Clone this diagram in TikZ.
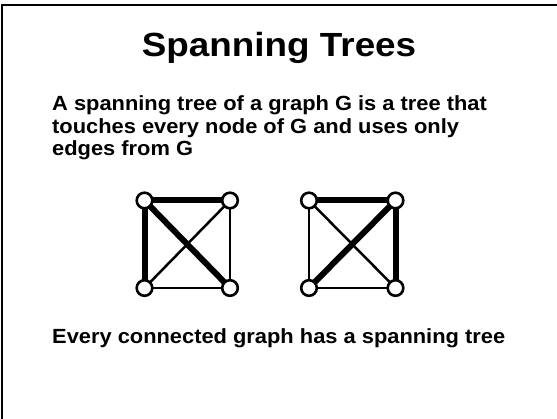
\documentclass[tikz,border=0pt]{standalone}
\usepackage{fontspec}
\setmainfont{Liberation Sans}[FakeStretch=1.066]
\newfontfamily\titlefont{Liberation Sans}[FakeStretch=1.1]
\begin{document}
\begin{tikzpicture}[x=1pt,y=-1pt,
  vert/.style={circle,draw=black,fill=white,line width=2.6pt,minimum size=15.6pt,inner sep=0pt},
  thin edge/.style={line width=2.5pt},
  tree edge/.style={line width=6pt},
  body/.style={anchor=base west,inner sep=0pt,font=\fontsize{20.5}{22}\selectfont\bfseries}]
\useasboundingbox (0,0) rectangle (557,419);
% slide frame (only top and left sides lie inside the page)
\draw[line width=2pt] (2,440) -- (2,5) -- (580,5);

\node[anchor=base,inner sep=0pt,font=\titlefont\fontsize{33.5}{36}\selectfont\bfseries] (title) at (279,56.7) {Spanning Trees};
\node[body] (def1) at (52,111) {A spanning tree of a graph G is a tree that};
\node[body] (def2) at (52,133.5) {touches every node of G and uses only};
\node[body] (def3) at (52,156) {edges from G};
\node[body] (fact) at (52,344) {Every connected graph has a spanning tree};

% first graph
\coordinate (a1) at (144.5,200.5);
\coordinate (b1) at (230,200.5);
\coordinate (c1) at (144.5,288);
\coordinate (d1) at (230,288);
\draw[thin edge] (b1) -- (c1);
\draw[thin edge] (b1) -- (d1);
\draw[thin edge] (c1) -- (d1);
\draw[tree edge] (a1) -- (b1);
\draw[tree edge] (a1) -- (c1);
\draw[tree edge] (a1) -- (d1);
\node[vert] (na1) at (a1) {};
\node[vert] (nb1) at (b1) {};
\node[vert] (nc1) at (c1) {};
\node[vert] (nd1) at (d1) {};

% second graph
\coordinate (a2) at (309,200.5);
\coordinate (b2) at (395.5,200.5);
\coordinate (c2) at (309,288);
\coordinate (d2) at (395.5,288);
\draw[thin edge] (a2) -- (c2);
\draw[thin edge] (a2) -- (d2);
\draw[thin edge] (c2) -- (d2);
\draw[tree edge] (a2) -- (b2);
\draw[tree edge] (b2) -- (c2);
\draw[tree edge] (b2) -- (d2);
\node[vert] (na2) at (a2) {};
\node[vert] (nb2) at (b2) {};
\node[vert] (nc2) at (c2) {};
\node[vert] (nd2) at (d2) {};
\end{tikzpicture}
\end{document}
